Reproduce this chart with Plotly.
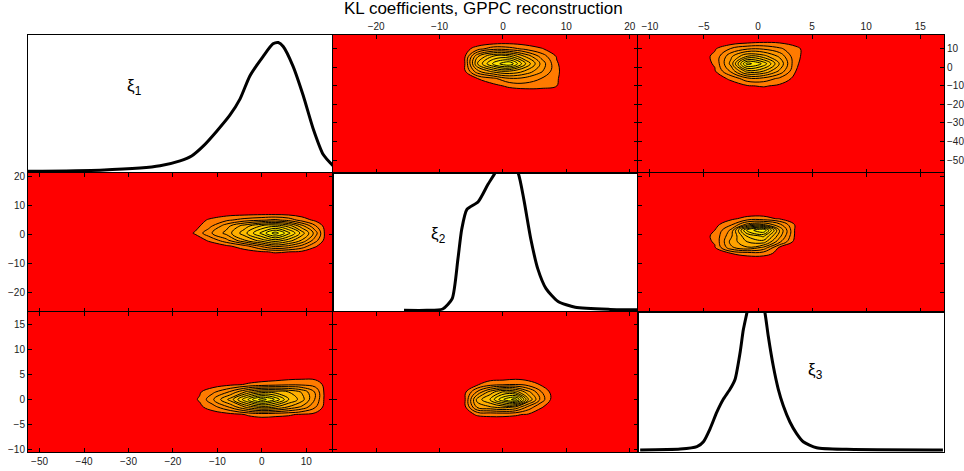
import plotly.graph_objects as go

TITLE = "KL coefficients, GPPC reconstruction"
VAR_LABELS = ["ξ<sub>1</sub>", "ξ<sub>2</sub>", "ξ<sub>3</sub>"]

# axis ranges: column j shows variable j on x, row i shows variable i on y
COL_RANGES = [[-52.6, 16.0], [-26.8, 21.3], [-11.1, 17.2]]
ROW_RANGES = [[-57.0, 17.5], [-26.8, 21.3], [-10.5, 17.5]]
TICKS = [[-50, -40, -30, -20, -10, 0, 10],
         [-20, -10, 0, 10, 20],
         [-10, -5, 0, 5, 10, 15]]
DENS_RANGE = [-0.012, 1.0]

# diagonal: marginal densities (relative height)
XI1_X = [-52.6, -36.4, -27.4, -22.9, -18.4, -15.8, -13.2, -10.2, -7.2, -4.9,
         -2.7, 0.3, 2.5, 3.7, 4.8, 7.0, 9.3, 11.5, 13.8, 16.0]
XI1_D = [0.0, 0.009, 0.024, 0.041, 0.077, 0.113, 0.185, 0.293, 0.412, 0.532,
         0.700, 0.844, 0.935, 0.945, 0.916, 0.772, 0.556, 0.317, 0.124, 0.041]

XI2_X = [-15.6, -12.0, -9.5, -8.0, -7.1, -6.5, -5.7, -3.9, -2.4, -1.25,
         0.5, 2.4, 3.3, 4.4, 5.5, 6.8, 8.7, 11.4, 16.9, 21.3]
XI2_D = [0.0, 0.0, 0.01, 0.086, 0.374, 0.59, 0.734, 0.791, 0.914, 1.0,
         1.15, 1.0, 0.806, 0.518, 0.302, 0.158, 0.065, 0.022, 0.007, 0.005]

XI3_X = [-10.9, -7.2, -5.65, -5.05, -4.43, -3.81, -3.2, -2.58, -2.12, -1.66,
         -1.36, -1.04, -0.2, 0.65, 0.95, 1.41, 1.87, 2.33, 2.95, 3.57,
         4.18, 5.42, 8.18, 17.1]
XI3_D = [0.002, 0.009, 0.026, 0.062, 0.157, 0.276, 0.371, 0.443, 0.514, 0.705,
         0.871, 0.99, 1.3, 0.99, 0.824, 0.609, 0.443, 0.324, 0.205, 0.121,
         0.062, 0.019, 0.007, 0.002]

DIAG = [(XI1_X, XI1_D), (XI2_X, XI2_D), (XI3_X, XI3_D)]
LABEL_POS = [(-28.6, 0.62), (-10.2, 0.55), (5.3, 0.57)]

# off-diagonal joint densities (relative, coarse grids)
# panel row 2, col 1: x = xi1, y = xi2
C21_X = [-60, -18, -15, -12, -8, -4, 0, 3, 6, 9, 12, 14.5, 20]
C21_Y = [-30, -8, -6, -4, -2, 0.5, 3, 5, 7, 25]
C21_Z = [
    [0] * 13,
    [0] * 13,
    [0, 0, 0, 0, 0, 0.01, 0.04, 0.06, 0.05, 0.03, 0, 0, 0],
    [0, 0, 0, 0, 0.03, 0.10, 0.25, 0.35, 0.30, 0.20, 0.06, 0, 0],
    [0, 0, 0, 0.06, 0.20, 0.40, 0.55, 0.65, 0.55, 0.40, 0.18, 0, 0],
    [0, 0, 0.06, 0.20, 0.35, 0.55, 0.80, 1.00, 0.80, 0.55, 0.28, 0, 0],
    [0, 0, 0.02, 0.10, 0.28, 0.45, 0.60, 0.65, 0.55, 0.35, 0.15, 0, 0],
    [0, 0, 0, 0.06, 0.12, 0.18, 0.22, 0.25, 0.20, 0.10, 0.03, 0, 0],
    [0, 0, 0, 0, 0.02, 0.03, 0.04, 0.04, 0.03, 0.01, 0, 0, 0],
    [0] * 13,
]

# panel row 3, col 1: x = xi1, y = xi3
C31_X = [-60, -17, -14, -11, -7, -3, 0, 3, 6, 9, 12, 14.5, 20]
C31_Y = [-13, -4.5, -3, -1.5, 0, 1.5, 3, 4.5, 20]
C31_Z = [
    [0] * 13,
    [0] * 13,
    [0, 0, 0, 0, 0.02, 0.06, 0.08, 0.07, 0.06, 0.04, 0.02, 0, 0],
    [0, 0, 0.03, 0.10, 0.25, 0.45, 0.55, 0.50, 0.40, 0.30, 0.15, 0, 0],
    [0, 0, 0.06, 0.22, 0.45, 0.80, 1.00, 0.85, 0.60, 0.45, 0.22, 0, 0],
    [0, 0, 0.04, 0.12, 0.25, 0.45, 0.55, 0.55, 0.50, 0.40, 0.22, 0, 0],
    [0, 0, 0, 0, 0.03, 0.06, 0.08, 0.10, 0.12, 0.12, 0.10, 0.02, 0],
    [0, 0, 0, 0, 0, 0, 0, 0, 0.01, 0.02, 0.02, 0, 0],
    [0] * 13,
]

# panel row 1, col 2: x = xi2, y = xi1
C12_X = [-30, -8, -6, -4, -1.5, 1, 3.5, 6, 8.5, 10, 25]
C12_Y = [-60, -13, -10, -6, -2, 2, 6, 10, 13, 20]
C12_Z = [
    [0] * 11,
    [0] * 11,
    [0, 0, 0, 0, 0.02, 0.07, 0.10, 0.09, 0.05, 0, 0],
    [0, 0, 0, 0.05, 0.12, 0.22, 0.20, 0.14, 0.06, 0, 0],
    [0, 0, 0.04, 0.30, 0.45, 0.50, 0.40, 0.25, 0.07, 0, 0],
    [0, 0, 0.05, 0.50, 0.80, 0.95, 0.60, 0.30, 0.06, 0, 0],
    [0, 0, 0.04, 0.40, 0.60, 0.60, 0.40, 0.20, 0.04, 0, 0],
    [0, 0, 0.01, 0.10, 0.20, 0.18, 0.12, 0.06, 0, 0, 0],
    [0, 0, 0, 0, 0.03, 0.04, 0.02, 0, 0, 0, 0],
    [0] * 11,
]

# panel row 1, col 3: x = xi3, y = xi1
C13_X = [-13, -5.5, -4, -2.5, -1, 0.5, 2, 3.5, 5, 20]
C13_Y = [-60, -13, -10, -6, -2, 2, 6, 10, 13.5, 20]
C13_Z = [
    [0] * 10,
    [0] * 10,
    [0, 0, 0, 0, 0.04, 0.06, 0.03, 0, 0, 0],
    [0, 0, 0, 0.07, 0.20, 0.20, 0.12, 0.02, 0, 0],
    [0, 0, 0.04, 0.25, 0.55, 0.50, 0.30, 0.05, 0, 0],
    [0, 0, 0.06, 0.35, 0.90, 0.75, 0.40, 0.06, 0, 0],
    [0, 0, 0.07, 0.30, 0.50, 0.45, 0.30, 0.07, 0, 0],
    [0, 0, 0.04, 0.15, 0.22, 0.22, 0.16, 0.07, 0, 0],
    [0, 0, 0, 0, 0.03, 0.05, 0.04, 0.02, 0, 0],
    [0] * 10,
]

# panel row 2, col 3: x = xi3, y = xi2
C23_X = [-13, -5.5, -4, -2.5, -1, 0.5, 2, 3.5, 5, 20]
C23_Y = [-30, -8.5, -6.5, -4.5, -2.5, -0.5, 1.5, 3.5, 5.5, 7.5, 25]
C23_Z = [
    [0] * 10,
    [0] * 10,
    [0, 0, 0, 0.05, 0.09, 0.09, 0.02, 0, 0, 0],
    [0, 0, 0.04, 0.30, 0.40, 0.30, 0.03, 0, 0, 0],
    [0, 0, 0.06, 0.35, 0.50, 0.55, 0.25, 0, 0, 0],
    [0, 0, 0.07, 0.30, 0.60, 0.70, 0.35, 0.02, 0, 0],
    [0, 0, 0.05, 0.25, 0.80, 0.95, 0.40, 0.02, 0, 0],
    [0, 0, 0.02, 0.12, 0.35, 0.40, 0.25, 0.03, 0, 0],
    [0, 0, 0, 0.03, 0.08, 0.08, 0.04, 0, 0, 0],
    [0, 0, 0, 0, 0, 0.01, 0, 0, 0, 0],
    [0] * 10,
]

# panel row 3, col 2: x = xi2, y = xi3
C32_X = [-30, -8, -6, -4, -2, 0, 2, 4, 6, 8, 25]
C32_Y = [-13, -4.5, -3, -1.5, 0, 1.5, 3, 4.5, 20]
C32_Z = [
    [0] * 11,
    [0] * 11,
    [0, 0, 0.02, 0.06, 0.07, 0.07, 0.06, 0.04, 0, 0, 0],
    [0, 0, 0.03, 0.35, 0.40, 0.45, 0.40, 0.20, 0.06, 0, 0],
    [0, 0, 0.04, 0.45, 0.60, 0.85, 1.00, 0.50, 0.20, 0, 0],
    [0, 0, 0.03, 0.25, 0.45, 0.60, 0.55, 0.35, 0.15, 0, 0],
    [0, 0, 0, 0.04, 0.10, 0.12, 0.14, 0.10, 0.04, 0, 0],
    [0, 0, 0, 0, 0, 0, 0.01, 0, 0, 0, 0],
    [0] * 11,
]

JOINT = {
    (1, 0): (C21_X, C21_Y, C21_Z),
    (2, 0): (C31_X, C31_Y, C31_Z),
    (0, 1): (C12_X, C12_Y, C12_Z),
    (0, 2): (C13_X, C13_Y, C13_Z),
    (1, 2): (C23_X, C23_Y, C23_Z),
    (2, 1): (C32_X, C32_Y, C32_Z),
}

COLORSCALE = [[0.0, "#FF0000"], [0.045, "#FF0000"], [0.0909, "#FF7A00"], [1.0, "#FFFF00"]]

W, H = 964, 471
ML, MR, MT, MB = 28, 20, 35, 19
COL_PX = [(28, 333), (333, 638), (638, 944)]
ROW_PX = [(35, 173), (173, 312), (312, 452)]
PW, PH = W - ML - MR, H - MT - MB


def xdom(j):
    a, b = COL_PX[j]
    return [(a - ML) / PW, (b - ML) / PW]


def ydom(i):
    a, b = ROW_PX[i]
    return [(H - MB - b) / PH, (H - MB - a) / PH]


FONT = "Liberation Sans, Arial, Helvetica, sans-serif"
TICKFONT = dict(family=FONT, size=10, color="#222222")

fig = go.Figure()
layout = dict(
    width=W, height=H,
    margin=dict(l=ML, r=MR, t=MT, b=MB, pad=0, autoexpand=False),
    showlegend=False,
    plot_bgcolor="white", paper_bgcolor="white",
    annotations=[],
)

for i in range(3):
    for j in range(3):
        k = i * 3 + j + 1
        xn = "x" if k == 1 else f"x{k}"
        yn = "y" if k == 1 else f"y{k}"
        diag = i == j
        xa = dict(domain=xdom(j), anchor=yn, range=COL_RANGES[j], automargin=False,
                  showgrid=False, zeroline=False, showline=True, mirror=True,
                  linecolor="black", linewidth=1,
                  tickvals=TICKS[j], ticks="" if diag else "inside",
                  ticklen=4, tickcolor="black", tickwidth=1,
                  showticklabels=False, tickfont=TICKFONT)
        ya = dict(domain=ydom(i), anchor=xn, automargin=False,
                  range=DENS_RANGE if diag else ROW_RANGES[i],
                  showgrid=False, zeroline=False, showline=True, mirror=True,
                  linecolor="black", linewidth=1,
                  tickvals=None if diag else TICKS[i],
                  ticks="" if diag else "inside",
                  ticklen=4, tickcolor="black", tickwidth=1,
                  showticklabels=False, tickfont=TICKFONT)
        if not diag:
            xa["mirror"] = "ticks"
            ya["mirror"] = "ticks"
        if i == 2 and j == 0:
            xa["showticklabels"] = True
        if i == 0 and j in (1, 2):
            xa["showticklabels"] = True
            xa["side"] = "top"
        if j == 0 and i in (1, 2):
            ya["showticklabels"] = True
        if i == 0 and j == 2:
            ya["showticklabels"] = True
            ya["side"] = "right"
        layout["xaxis" if k == 1 else f"xaxis{k}"] = xa
        layout["yaxis" if k == 1 else f"yaxis{k}"] = ya

        if diag:
            dx, dy = DIAG[i]
            fig.add_trace(go.Scatter(
                x=dx, y=dy, mode="lines", xaxis=xn, yaxis=yn,
                line=dict(color="black", width=3, shape="spline", smoothing=0.6),
                hoverinfo="skip"))
            lx, ly = LABEL_POS[i]
            layout["annotations"].append(dict(
                x=lx, y=ly, xref=xn, yref=yn, text=VAR_LABELS[i],
                showarrow=False, font=dict(family=FONT, size=17, color="black")))
        else:
            cx, cy, cz = JOINT[(i, j)]
            fig.add_trace(go.Contour(
                x=cx, y=cy, z=cz, xaxis=xn, yaxis=yn,
                autocontour=False,
                contours=dict(start=0.05, end=0.95, size=0.09,
                              coloring="fill", showlines=True),
                line=dict(color="black", width=1, smoothing=1.1),
                colorscale=COLORSCALE, showscale=False, hoverinfo="skip"))

layout["annotations"].append(dict(
    x=(483 - ML) / PW, y=1 + (MT - 9) / PH, xref="paper", yref="paper",
    text=TITLE, showarrow=False, xanchor="center", yanchor="middle",
    font=dict(family=FONT, size=17, color="black")))

fig.update_layout(**layout)
fig.write_html("out.html",
               config={"displayModeBar": False},
               post_script="document.body.style.margin='0px';"
                           "document.body.style.overflow='hidden';")
